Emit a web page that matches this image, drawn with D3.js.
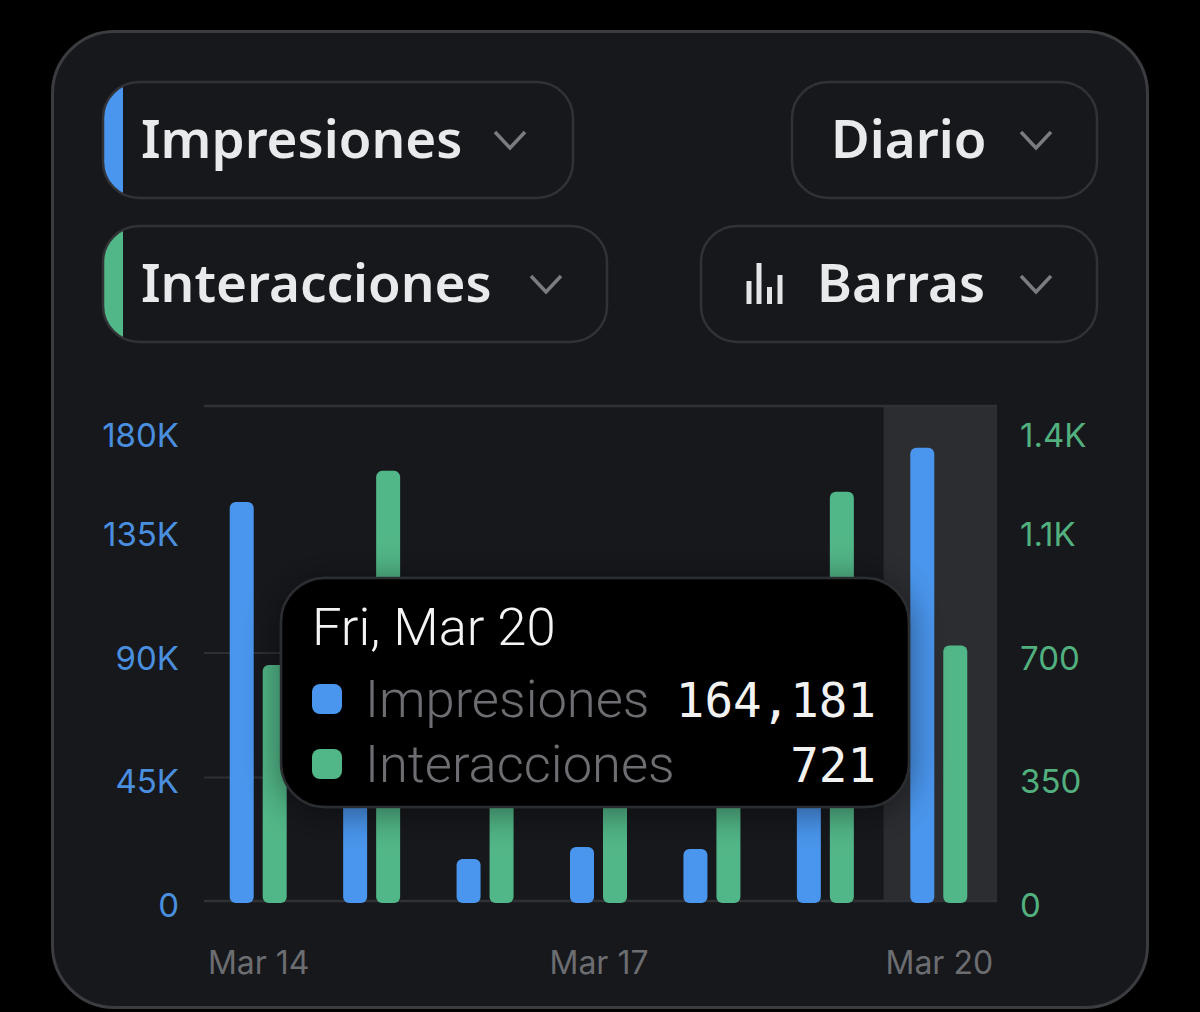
<!DOCTYPE html>
<html>
<head>
<meta charset="utf-8">
<script src="https://cdn.jsdelivr.net/npm/d3@7"></script>
<style>
  html, body { margin: 0; padding: 0; background: #000; }
  svg { display: block; }
  .tick-text { font-family: Inter, sans-serif; font-size: 33px; }
  .x-text { font-family: Inter, sans-serif; font-size: 32px; }
  .pill-text { font-family: "Noto Sans", sans-serif; font-weight: 600; font-size: 53px; fill: #e9eaec; }
  .tip-text { font-family: Roboto, sans-serif; font-weight: 300; font-size: 52.5px; }
  .tip-num { font-family: "DejaVu Sans Mono", monospace; font-size: 47.5px; fill: #f2f2f2; text-anchor: end; }
</style>
</head>
<body>
<svg id="chart" width="1200" height="1012"></svg>
<script>
const days = ['Mar 14', 'Mar 15', 'Mar 16', 'Mar 17', 'Mar 18', 'Mar 19', 'Mar 20'];
const impresiones = [144600, 62000, 15500, 19900, 19200, 55000, 164181];
const interacciones = [666, 1212, 480, 400, 420, 1153, 721];
const leftTicks = [0, 45000, 90000, 135000, 180000];
const leftLabels = ['0', '45K', '90K', '135K', '180K'];
const rightTicks = [0, 350, 700, 1050, 1400];
const rightLabels = ['0', '350', '700', '1.1K', '1.4K'];
const gridTicks = [45000, 90000];
const xLabels = ['Mar 14', 'Mar 17', 'Mar 20'];

const BLUE = '#4a96ee';
const GREEN = '#52b788';
const TOP = 404;
const RULE_TOP = 406;
const BASE = 902;

var svg = d3.select('#chart');

// card
svg.append('rect')
  .attr('x', 52.5).attr('y', 31.5)
  .attr('width', 1095).attr('height', 976)
  .attr('rx', 62)
  .attr('fill', '#17181c')
  .attr('stroke', '#3b3c3f')
  .attr('stroke-width', 3);

var defs = svg.append('defs');
var shadow = defs.append('filter').attr('id', 'tipShadow')
  .attr('x', '-20%').attr('y', '-30%').attr('width', '140%').attr('height', '160%');
shadow.append('feDropShadow')
  .attr('dx', 0).attr('dy', 4)
  .attr('stdDeviation', 18)
  .attr('flood-color', '#000')
  .attr('flood-opacity', 0.45);

// dropdown pills
const pills = [
  { label: 'Impresiones', x: 103, y: 82, w: 470, textX: 141, chevX: 510, stripe: BLUE },
  { label: 'Interacciones', x: 103, y: 226, w: 504, textX: 141, chevX: 546, stripe: GREEN },
  { label: 'Diario', x: 792, y: 82, w: 305, textX: 831, chevX: 1036 },
  { label: 'Barras', x: 701, y: 226, w: 396, textX: 817, chevX: 1036 }
];
const PILL_H = 116;

pills.forEach((p, i) => {
  var g = svg.append('g').attr('class', 'pill');
  if (p.stripe) {
    defs.append('clipPath').attr('id', 'pillClip' + i)
      .append('rect')
      .attr('x', p.x).attr('y', p.y)
      .attr('width', p.w).attr('height', PILL_H)
      .attr('rx', 36);
    g.append('rect')
      .attr('x', p.x).attr('y', p.y)
      .attr('width', 20).attr('height', PILL_H)
      .attr('fill', p.stripe)
      .attr('clip-path', 'url(#pillClip' + i + ')');
  }
  g.append('rect')
    .attr('x', p.x).attr('y', p.y)
    .attr('width', p.w).attr('height', PILL_H)
    .attr('rx', 36)
    .attr('fill', 'none')
    .attr('stroke', '#313236')
    .attr('stroke-width', 2.5);
  g.append('text')
    .attr('class', 'pill-text')
    .attr('x', p.textX)
    .attr('y', p.y + 76)
    .text(p.label);
  var cy = p.y + 58;
  g.append('path')
    .attr('d', `M${p.chevX - 15},${cy - 8} L${p.chevX},${cy + 8} L${p.chevX + 15},${cy - 8}`)
    .attr('fill', 'none')
    .attr('stroke', '#7b7c7f')
    .attr('stroke-width', 3.5);
});

// little bars icon in the Barras pill
svg.append('path')
  .attr('d', 'M749,281V304 M759,263V304 M769.5,287V304 M780,275V304')
  .attr('fill', 'none')
  .attr('stroke', '#e4e5e7')
  .attr('stroke-width', 5);

// scales
var x = d3.scaleBand().domain(days).range([203, 997]);
var inner = d3.scaleBand().domain(['imp', 'int']).range([0, 57]).paddingInner(9 / 33);
var yLeft = d3.scaleLinear().domain([0, 180000]).range([BASE, TOP]);
var yRight = d3.scaleLinear().domain([0, 1400]).range([BASE, TOP]);

// faint grid lines
svg.selectAll('.grid')
  .data(gridTicks)
  .enter()
  .append('line')
  .attr('class', 'grid')
  .attr('x1', 204).attr('x2', 884)
  .attr('y1', d => yLeft(d)).attr('y2', d => yLeft(d))
  .attr('stroke', '#2e2f33')
  .attr('stroke-width', 2);

// selected day
svg.append('rect')
  .attr('x', x('Mar 20'))
  .attr('y', RULE_TOP)
  .attr('width', x.bandwidth())
  .attr('height', BASE - RULE_TOP)
  .attr('fill', '#2c2d31');

// top and bottom rules
svg.selectAll('.rule')
  .data([RULE_TOP, BASE - 1])
  .enter()
  .append('line')
  .attr('class', 'rule')
  .attr('x1', 204).attr('x2', 997)
  .attr('y1', d => d).attr('y2', d => d)
  .attr('stroke', '#303135')
  .attr('stroke-width', 2.5);

// bars
var pairX = d => x(d) + x.bandwidth() / 2 - 30;

function drawBars(name, values, yScale, fill) {
  svg.append('g')
    .attr('class', name)
    .selectAll('rect')
    .data(values)
    .enter()
    .append('rect')
    .attr('x', (d, i) => pairX(days[i]) + inner(name))
    .attr('y', d => yScale(d))
    .attr('width', inner.bandwidth())
    .attr('height', d => BASE + 1 - yScale(d))
    .attr('rx', 6)
    .attr('fill', fill);
}
drawBars('imp', impresiones, yLeft, BLUE);
drawBars('int', interacciones, yRight, GREEN);

// y tick labels sit a little under their value, the top one is pushed inside
const tickOffsets = [15, 15, 17, 17, 43];

function drawTicks(ticks, labels, scale, fill, anchor, xPos) {
  svg.append('g')
    .selectAll('text')
    .data(ticks)
    .enter()
    .append('text')
    .attr('class', 'tick-text')
    .attr('x', xPos)
    .attr('y', (d, i) => scale(d) + tickOffsets[i])
    .attr('text-anchor', anchor)
    .attr('fill', fill)
    .text((d, i) => labels[i]);
}
drawTicks(leftTicks, leftLabels, yLeft, '#4a8fdf', 'end', 179);
drawTicks(rightTicks, rightLabels, yRight, '#52b07f', 'start', 1020);

// x labels
svg.append('g')
  .selectAll('text')
  .data(xLabels)
  .enter()
  .append('text')
  .attr('class', 'x-text')
  .attr('x', d => x(d) + x.bandwidth() / 2 - 1)
  .attr('y', 974)
  .attr('text-anchor', 'middle')
  .attr('fill', '#6c6d70')
  .text(d => d);

// tooltip
var tip = svg.append('g').attr('class', 'tooltip');
tip.append('rect')
  .attr('x', 281).attr('y', 578)
  .attr('width', 628).attr('height', 229)
  .attr('rx', 44)
  .attr('fill', '#000')
  .attr('stroke', '#2c2d30')
  .attr('stroke-width', 2.5)
  .attr('filter', 'url(#tipShadow)');
tip.append('text')
  .attr('class', 'tip-text')
  .attr('x', 312).attr('y', 645)
  .attr('fill', '#f4f4f4')
  .text('Fri, Mar 20');

const tipRows = [
  { name: 'Impresiones', value: impresiones[6], color: BLUE, base: 717 },
  { name: 'Interacciones', value: interacciones[6], color: GREEN, base: 782 }
];
tipRows.forEach(r => {
  tip.append('rect')
    .attr('x', 312).attr('y', r.base - 33)
    .attr('width', 30).attr('height', 30)
    .attr('rx', 8)
    .attr('fill', r.color);
  tip.append('text')
    .attr('class', 'tip-text')
    .attr('x', 365).attr('y', r.base)
    .attr('fill', '#6d6e71')
    .text(r.name);
  tip.append('text')
    .attr('class', 'tip-num')
    .attr('x', 876).attr('y', r.base)
    .text(d3.format(',')(r.value));
});
</script>
</body>
</html>
